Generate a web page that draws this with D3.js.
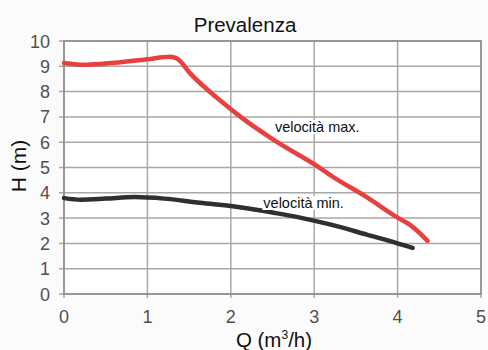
<!DOCTYPE html>
<html><head><meta charset="utf-8">
<script src="https://cdn.jsdelivr.net/npm/d3@7"></script>
<style>body{margin:0;background:#fff;}svg{display:block;}</style>
</head><body>
<script>
const xTicks = [0,1,2,3,4,5];
const yTicks = [0,1,2,3,4,5,6,7,8,9,10];
const maxQ = [0,0.23,0.6,1.0,1.27,1.36,1.51,1.91,2.11,2.51,3.07,3.23,3.63,3.99,4.15,4.36];
const maxH = [9.13,9.06,9.14,9.28,9.38,9.3,8.73,7.55,7.02,6.1,4.98,4.62,3.83,3.04,2.73,2.1];
const minQ = [0,0.2,0.5,0.85,1.2,1.6,2.0,2.23,2.5,2.83,3.2,3.63,3.9,4.18];
const minH = [3.79,3.73,3.77,3.83,3.77,3.62,3.48,3.37,3.22,3.02,2.74,2.35,2.1,1.82];
const labels = [{t:"velocità max.", q:2.53, h:6.4}, {t:"velocità min.", q:2.39, h:3.4}];

const W=488,H=350;
const font="Liberation Sans, Arial, sans-serif";
const svg=d3.select("body").append("svg").attr("width",W).attr("height",H);
svg.append("rect").attr("width",W).attr("height",H).attr("fill","#fbfbfb");
const x=d3.scaleLinear().domain([0,5]).range([64,481]);
const y=d3.scaleLinear().domain([0,10]).range([294,41]);
svg.append("rect").attr("x",64).attr("y",41).attr("width",417).attr("height",253).attr("fill","#fff");
// grid
svg.append("g").selectAll("line").data(yTicks).join("line")
 .attr("x1",59).attr("x2",481).attr("y1",d=>y(d)).attr("y2",d=>y(d))
 .attr("stroke","#a8a8a8").attr("stroke-width",1.5);
svg.append("g").selectAll("line").data(xTicks).join("line")
 .attr("y1",41).attr("y2",298).attr("x1",d=>x(d)).attr("x2",d=>x(d))
 .attr("stroke","#a8a8a8").attr("stroke-width",1.5);
svg.append("rect").attr("x",64).attr("y",41).attr("width",417).attr("height",253)
 .attr("fill","none").attr("stroke","#8c8c8c").attr("stroke-width",1.5);
// tick labels
svg.append("g").selectAll("text").data(yTicks).join("text")
 .attr("x",50).attr("y",d=>y(d)+6.5).attr("text-anchor","end")
 .attr("font-family",font).attr("font-size",18)
 .attr("fill","#505050").text(d=>d);
svg.append("g").selectAll("text").data(xTicks).join("text")
 .attr("x",d=>x(d)).attr("y",323).attr("text-anchor","middle")
 .attr("font-family",font).attr("font-size",18)
 .attr("fill","#505050").text(d=>d);
// curves
const line=d3.line().curve(d3.curveMonotoneX);
svg.append("path").attr("d",line(maxQ.map((q,i)=>[x(q),y(maxH[i])])))
 .attr("fill","none").attr("stroke","#e8403f").attr("stroke-width",4.5).attr("stroke-linecap","round");
svg.append("path").attr("d",line(minQ.map((q,i)=>[x(q),y(minH[i])])))
 .attr("fill","none").attr("stroke","#2f2f2f").attr("stroke-width",4.5).attr("stroke-linecap","round");
// labels
labels.forEach(l=>{
 const g=svg.append("g");
 const t=g.append("text").attr("x",x(l.q)).attr("y",y(l.h)).attr("font-family",font)
  .attr("font-size",14.5).attr("fill","#111").text(l.t);
 const b=t.node().getBBox();
 g.insert("rect","text").attr("x",b.x-1).attr("y",b.y+1).attr("width",b.width+2).attr("height",b.height-2).attr("fill","#fff");
});
svg.append("text").attr("x",245).attr("y",32).attr("text-anchor","middle")
 .attr("font-family",font).attr("font-size",20.5).attr("fill","#111").text("Prevalenza");
svg.append("text").attr("transform","translate(26,166) rotate(-90)").attr("text-anchor","middle")
 .attr("font-family",font).attr("font-size",21).attr("fill","#111").text("H (m)");
const qt=svg.append("text").attr("x",274).attr("y",347).attr("text-anchor","middle")
 .attr("font-family",font).attr("font-size",20.5).attr("fill","#111");
qt.append("tspan").text("Q (m");
qt.append("tspan").attr("font-size",12).attr("dy",-8).text("3");
qt.append("tspan").attr("dy",8).text("/h)");
</script>
</body></html>
